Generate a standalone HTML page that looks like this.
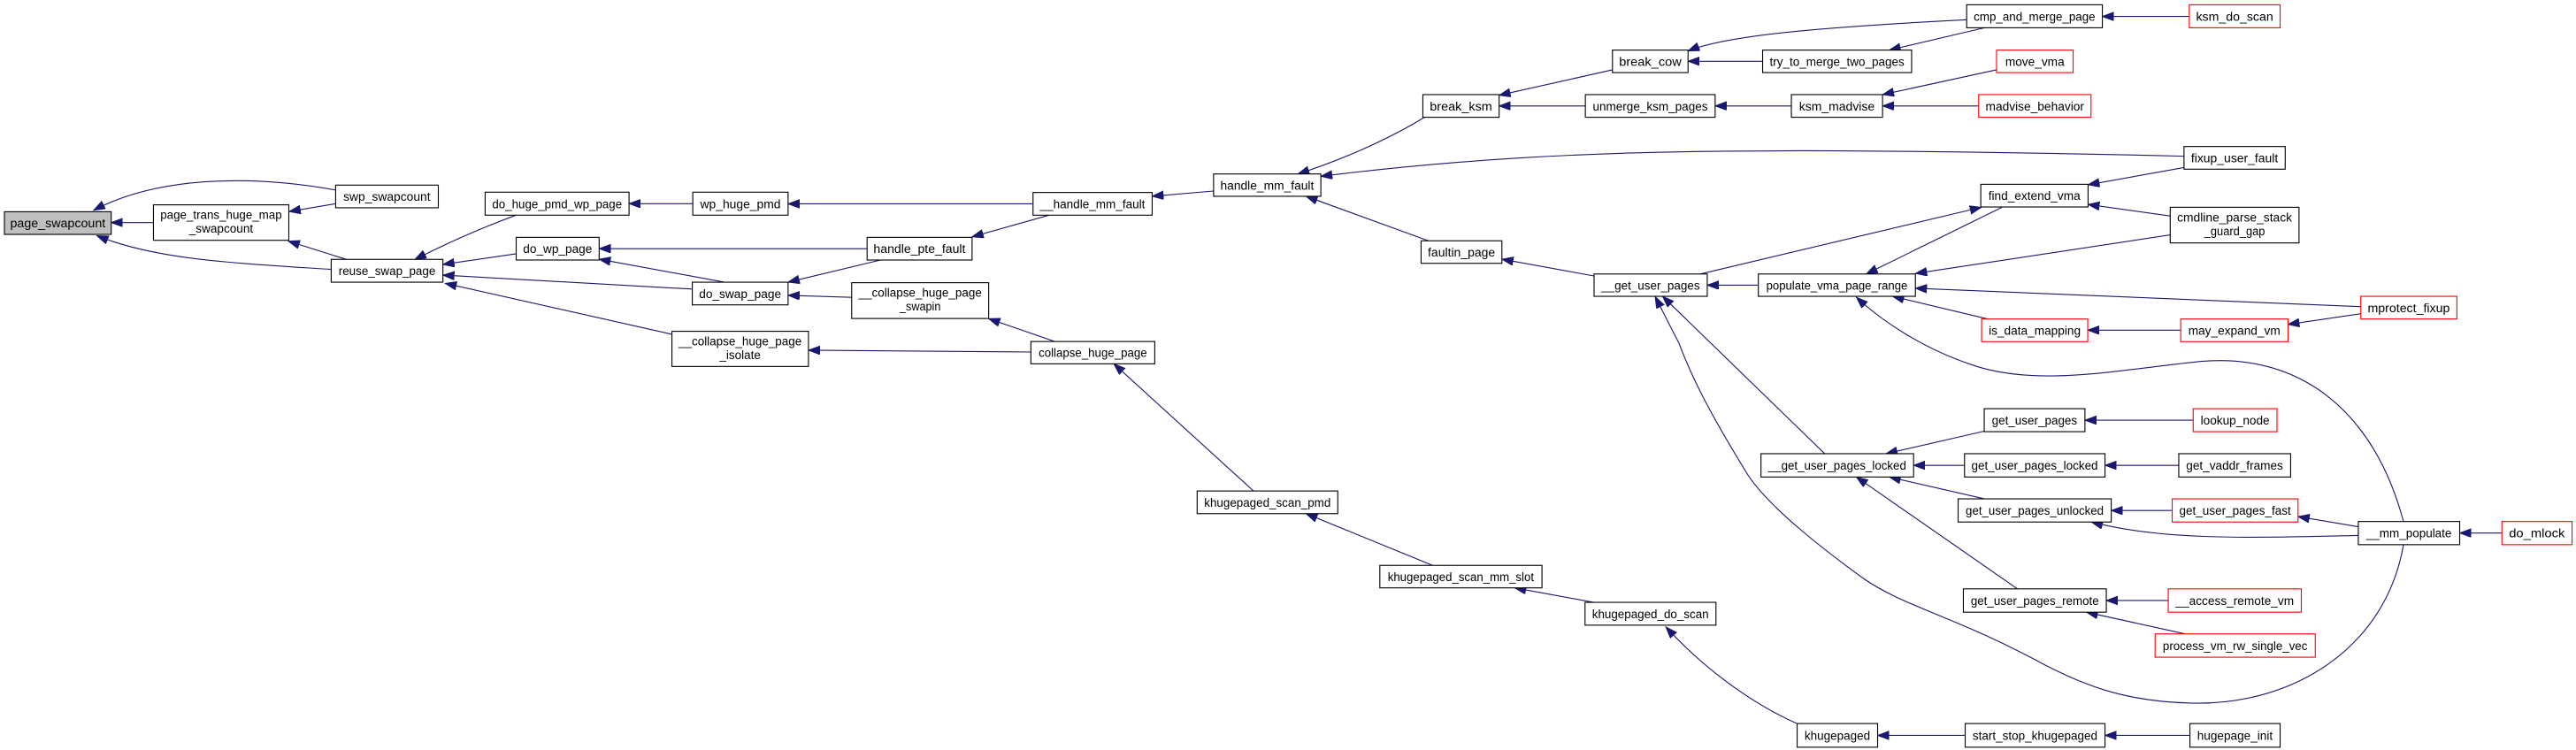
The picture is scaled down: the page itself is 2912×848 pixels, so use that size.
<!DOCTYPE html>
<html><head><meta charset="utf-8"><style>
html,body{margin:0;padding:0;background:#fff;}
svg{display:block;}
text{font-family:"Liberation Sans",sans-serif;font-size:7.6px;fill:#000;text-anchor:middle;}
.n{fill:#fff;stroke:#000;stroke-width:0.6;}
.r{fill:#fff;stroke:#ff0000;stroke-width:0.6;}
.g{fill:#bfbfbf;stroke:#000;stroke-width:0.6;}
path{fill:none;stroke:#191970;stroke-width:0.6;}
</style></head><body>
<svg width="2912" height="848" viewBox="0 0 1568 456.6" preserveAspectRatio="none" xmlns="http://www.w3.org/2000/svg">
<defs><marker id="a" markerUnits="userSpaceOnUse" markerWidth="8" markerHeight="6" refX="7" refY="2.6" orient="auto"><polygon points="0,0 7,2.6 0,5.2" fill="#191970" stroke="#191970" stroke-width="0.5"/></marker></defs>
<g marker-end="url(#a)">
<path d="M204.3,115.7 C150,106 95,108 57,128"/>
<path d="M204.3,124 L176,128.8"/>
<path d="M93.4,135.5 L67.7,135.5"/>
<path d="M201.6,164 C140,160 95,158 59,143.5"/>
<path d="M211,158 L175.5,146.8"/>
<path d="M314,131 C290,140 268,150 252.5,158"/>
<path d="M314.2,154.5 L269.6,161"/>
<path d="M421.4,176 L269.6,167.5"/>
<path d="M409,203.5 L271,172.5"/>
<path d="M421.7,124 L382.9,124"/>
<path d="M527.8,151.4 L364.7,151.4"/>
<path d="M441,171.8 L364.7,157.8"/>
<path d="M536,158.3 L479.7,171.8"/>
<path d="M518.4,181 L479.7,179.8"/>
<path d="M642,207.9 L601.8,194"/>
<path d="M627.5,214.3 L492.1,213.2"/>
<path d="M628.8,124.1 L479.7,124.1"/>
<path d="M638.5,131 L591.7,144.2"/>
<path d="M738.7,116.3 L701.3,119.5"/>
<path d="M867,71.4 C845,85 815,98 790,105.9"/>
<path d="M869.5,146.6 L795,119.5"/>
<path d="M1329.4,95.1 C1200,92 1100,91.5 1077,91.9 C960,92 880,98 804,107.3"/>
<path d="M981.5,42.5 L912.5,58"/>
<path d="M965,64.5 L912.5,64.5"/>
<path d="M1197.1,12 C1100,17 1050,22 1027.5,31"/>
<path d="M1072.9,37.3 L1027.5,37.3"/>
<path d="M1208,16.9 L1150,30.5"/>
<path d="M1332.6,10 L1279.7,10"/>
<path d="M1090.4,64.5 L1044,64.5"/>
<path d="M1215.3,42.5 L1145.9,57.6"/>
<path d="M1204.4,64.5 L1145.9,64.5"/>
<path d="M1329.4,102 L1271,112.5"/>
<path d="M1321,131.5 L1271,124.5"/>
<path d="M1035,166.8 L1206,126.2"/>
<path d="M1218.6,126.2 L1136,166.8"/>
<path d="M1321,143 L1166,166.5"/>
<path d="M1437,186.7 L1165.9,175.5"/>
<path d="M1210,194.2 L1152,180.4"/>
<path d="M1463,317.5 C1445,250 1400,215 1340,220 C1290,225 1240,236 1200,222 C1170,212 1145,195 1130,181"/>
<path d="M1327.4,201 L1270.8,201"/>
<path d="M1437,191 L1392.7,197.5"/>
<path d="M1070.3,173.6 L1039.2,173.6"/>
<path d="M970.3,168 L914.2,157.8"/>
<path d="M1110.7,276.2 L1012,180.4"/>
<path d="M1463,331.6 C1452,395 1395,430 1333,428 C1290,427 1265,415 1245,405 C1190,375 1160,370 1134,352 C1090,320 1070,300 1062,286 C1040,250 1030,230 1022,209 L1007.5,180.6"/>
<path d="M1207.8,262.5 L1148,276.2"/>
<path d="M1335,255.8 L1269.1,255.8"/>
<path d="M1195.8,283.3 L1164.8,283.3"/>
<path d="M1326.2,283.3 L1281.3,283.3"/>
<path d="M1208,303.7 L1150,290.4"/>
<path d="M1322.2,310.8 L1285.1,310.8"/>
<path d="M1435.5,320.7 L1398.8,314.5"/>
<path d="M1435.5,326 C1380,327 1320,330 1273,317.8"/>
<path d="M1228,358.5 L1130,290.4"/>
<path d="M1319.8,365.6 L1282.1,365.6"/>
<path d="M1330,385.9 L1270,372.7"/>
<path d="M1522.9,324.5 L1497.2,324.5"/>
<path d="M970,366.7 L922,357.9"/>
<path d="M872,344.2 L795,312.7"/>
<path d="M763,298.9 L678,221.5"/>
<path d="M1093.9,440.5 C1070,430 1040,410 1014,381.7"/>
<path d="M1196.2,447.7 L1142.9,447.7"/>
<path d="M1333,447.7 L1281.3,447.7"/>
</g>
<!-- nodes -->
<rect class="g" x="2.7" y="128.9" width="65" height="13.8"/><text x="35.2" y="138.5" textLength="58" lengthAdjust="spacingAndGlyphs">page_swapcount</text>
<rect class="n" x="93.4" y="124.7" width="82.4" height="21.6"/><text x="134.6" y="133.3" textLength="74" lengthAdjust="spacingAndGlyphs">page_trans_huge_map</text><text x="134.6" y="141.6" textLength="39" lengthAdjust="spacingAndGlyphs">_swapcount</text>
<rect class="n" x="204.3" y="112.7" width="62.5" height="13.8"/><text x="235.5" y="122.3" textLength="53" lengthAdjust="spacingAndGlyphs">swp_swapcount</text>
<rect class="n" x="201.6" y="157.9" width="68" height="13.9"/><text x="235.6" y="167.5" textLength="59" lengthAdjust="spacingAndGlyphs">reuse_swap_page</text>
<rect class="n" x="295.3" y="117" width="87.6" height="14"/><text x="339.1" y="126.7" textLength="79" lengthAdjust="spacingAndGlyphs">do_huge_pmd_wp_page</text>
<rect class="n" x="314.2" y="144.5" width="50.5" height="13.8"/><text x="339.4" y="154.1" textLength="42" lengthAdjust="spacingAndGlyphs">do_wp_page</text>
<rect class="n" x="421.4" y="171.8" width="58.3" height="13.8"/><text x="450.5" y="181.4" textLength="50" lengthAdjust="spacingAndGlyphs">do_swap_page</text>
<rect class="n" x="409" y="201.7" width="83.1" height="21.4"/><text x="450.5" y="210.2" textLength="75" lengthAdjust="spacingAndGlyphs">__collapse_huge_page</text><text x="450.5" y="218.5" textLength="25" lengthAdjust="spacingAndGlyphs">_isolate</text>
<rect class="n" x="421.7" y="117" width="58" height="14"/><text x="450.7" y="126.7" textLength="49" lengthAdjust="spacingAndGlyphs">wp_huge_pmd</text>
<rect class="n" x="527.8" y="144.5" width="63.9" height="13.8"/><text x="559.7" y="154.1" textLength="56" lengthAdjust="spacingAndGlyphs">handle_pte_fault</text>
<rect class="n" x="518.4" y="172.1" width="83.4" height="21.8"/><text x="560.1" y="180.7" textLength="75" lengthAdjust="spacingAndGlyphs">__collapse_huge_page</text><text x="560.1" y="189" textLength="25" lengthAdjust="spacingAndGlyphs">_swapin</text>
<rect class="n" x="627.5" y="207.9" width="75.4" height="13.6"/><text x="665.2" y="217.4" textLength="66" lengthAdjust="spacingAndGlyphs">collapse_huge_page</text>
<rect class="n" x="628.8" y="117.2" width="72.5" height="13.8"/><text x="665" y="126.8" textLength="64" lengthAdjust="spacingAndGlyphs">__handle_mm_fault</text>
<rect class="n" x="738.7" y="105.9" width="65.3" height="13.6"/><text x="771.3" y="115.4" textLength="57" lengthAdjust="spacingAndGlyphs">handle_mm_fault</text>
<rect class="n" x="866.1" y="57.6" width="46.4" height="13.8"/><text x="889.3" y="67.2" textLength="38" lengthAdjust="spacingAndGlyphs">break_ksm</text>
<rect class="n" x="865" y="146.6" width="49.2" height="13.7"/><text x="889.6" y="156.2" textLength="41" lengthAdjust="spacingAndGlyphs">faultin_page</text>
<rect class="n" x="981.5" y="30.5" width="46" height="13.7"/><text x="1004.5" y="40.1" textLength="38" lengthAdjust="spacingAndGlyphs">break_cow</text>
<rect class="n" x="965" y="57.6" width="79" height="13.8"/><text x="1004.5" y="67.2" textLength="70" lengthAdjust="spacingAndGlyphs">unmerge_ksm_pages</text>
<rect class="n" x="1072.9" y="30.5" width="90.7" height="13.7"/><text x="1118.2" y="40.1" textLength="82" lengthAdjust="spacingAndGlyphs">try_to_merge_two_pages</text>
<rect class="n" x="1197.1" y="2.9" width="82.6" height="14"/><text x="1238.4" y="12.6" textLength="74" lengthAdjust="spacingAndGlyphs">cmp_and_merge_page</text>
<rect class="r" x="1332.6" y="2.9" width="55.3" height="14"/><text x="1360.2" y="12.6" textLength="47" lengthAdjust="spacingAndGlyphs">ksm_do_scan</text>
<rect class="r" x="1215.3" y="30.5" width="46.6" height="13.7"/><text x="1238.6" y="40.1" textLength="36" lengthAdjust="spacingAndGlyphs">move_vma</text>
<rect class="n" x="1090.4" y="57.6" width="55.5" height="13.8"/><text x="1118.1" y="67.2" textLength="46" lengthAdjust="spacingAndGlyphs">ksm_madvise</text>
<rect class="r" x="1204.4" y="57.6" width="68.4" height="13.8"/><text x="1238.6" y="67.2" textLength="60" lengthAdjust="spacingAndGlyphs">madvise_behavior</text>
<rect class="n" x="1329.4" y="89.2" width="61.6" height="13.8"/><text x="1360.2" y="98.8" textLength="53" lengthAdjust="spacingAndGlyphs">fixup_user_fault</text>
<rect class="n" x="1205.7" y="112.2" width="65.3" height="13.8"/><text x="1238.3" y="121.8" textLength="56" lengthAdjust="spacingAndGlyphs">find_extend_vma</text>
<rect class="n" x="1321" y="126.2" width="78.4" height="21.7"/><text x="1360.2" y="134.8" textLength="70" lengthAdjust="spacingAndGlyphs">cmdline_parse_stack</text><text x="1360.2" y="143.1" textLength="37" lengthAdjust="spacingAndGlyphs">_guard_gap</text>
<rect class="n" x="970.3" y="166.8" width="68.9" height="13.6"/><text x="1004.7" y="176.3" textLength="60" lengthAdjust="spacingAndGlyphs">__get_user_pages</text>
<rect class="n" x="1070.3" y="166.8" width="95.6" height="13.6"/><text x="1118.1" y="176.3" textLength="86" lengthAdjust="spacingAndGlyphs">populate_vma_page_range</text>
<rect class="r" x="1437" y="180.4" width="58.5" height="13.8"/><text x="1466.2" y="190" textLength="50" lengthAdjust="spacingAndGlyphs">mprotect_fixup</text>
<rect class="r" x="1206.2" y="194.2" width="64.6" height="13.8"/><text x="1238.5" y="203.8" textLength="56" lengthAdjust="spacingAndGlyphs">is_data_mapping</text>
<rect class="r" x="1327.4" y="194.2" width="65.3" height="13.8"/><text x="1360" y="203.8" textLength="56" lengthAdjust="spacingAndGlyphs">may_expand_vm</text>
<rect class="n" x="1207.8" y="248.8" width="61.3" height="14"/><text x="1238.4" y="258.5" textLength="52" lengthAdjust="spacingAndGlyphs">get_user_pages</text>
<rect class="r" x="1335" y="248.8" width="51" height="14"/><text x="1360.5" y="258.5" textLength="42" lengthAdjust="spacingAndGlyphs">lookup_node</text>
<rect class="n" x="1071.9" y="276.2" width="92.9" height="14.2"/><text x="1118.3" y="286" textLength="84" lengthAdjust="spacingAndGlyphs">__get_user_pages_locked</text>
<rect class="n" x="1195.8" y="276.2" width="85.5" height="14.2"/><text x="1238.5" y="286" textLength="77" lengthAdjust="spacingAndGlyphs">get_user_pages_locked</text>
<rect class="n" x="1326.2" y="276.2" width="68.1" height="14.2"/><text x="1360.2" y="286" textLength="59" lengthAdjust="spacingAndGlyphs">get_vaddr_frames</text>
<rect class="n" x="1191.9" y="303.7" width="93.2" height="14.1"/><text x="1238.5" y="313.4" textLength="84" lengthAdjust="spacingAndGlyphs">get_user_pages_unlocked</text>
<rect class="r" x="1322.2" y="303.7" width="76.6" height="14.1"/><text x="1360.5" y="313.4" textLength="68" lengthAdjust="spacingAndGlyphs">get_user_pages_fast</text>
<rect class="n" x="1435.5" y="317.5" width="61.7" height="14.1"/><text x="1466.3" y="327.2" textLength="52" lengthAdjust="spacingAndGlyphs">__mm_populate</text>
<rect class="r" x="1522.9" y="317.5" width="42.7" height="14.1"/><text x="1544.2" y="327.2" textLength="34" lengthAdjust="spacingAndGlyphs">do_mlock</text>
<rect class="n" x="1195.1" y="358.5" width="87" height="14.2"/><text x="1238.6" y="368.3" textLength="78" lengthAdjust="spacingAndGlyphs">get_user_pages_remote</text>
<rect class="r" x="1319.8" y="358.5" width="81" height="14.2"/><text x="1360.3" y="368.3" textLength="72" lengthAdjust="spacingAndGlyphs">__access_remote_vm</text>
<rect class="r" x="1311.8" y="385.9" width="97.5" height="14.2"/><text x="1360.5" y="395.7" textLength="88" lengthAdjust="spacingAndGlyphs">process_vm_rw_single_vec</text>
<rect class="n" x="728.7" y="298.9" width="85.6" height="13.8"/><text x="771.5" y="308.5" textLength="77" lengthAdjust="spacingAndGlyphs">khugepaged_scan_pmd</text>
<rect class="n" x="839.9" y="344.2" width="98.7" height="13.7"/><text x="889.2" y="353.8" textLength="89" lengthAdjust="spacingAndGlyphs">khugepaged_scan_mm_slot</text>
<rect class="n" x="964.8" y="366.7" width="79.7" height="13.9"/><text x="1004.6" y="376.4" textLength="71" lengthAdjust="spacingAndGlyphs">khugepaged_do_scan</text>
<rect class="n" x="1093.9" y="440.5" width="49" height="14.4"/><text x="1118.4" y="450.4" textLength="40" lengthAdjust="spacingAndGlyphs">khugepaged</text>
<rect class="n" x="1196.2" y="440.5" width="85.1" height="14.4"/><text x="1238.7" y="450.4" textLength="76" lengthAdjust="spacingAndGlyphs">start_stop_khugepaged</text>
<rect class="n" x="1333" y="440.5" width="54.9" height="14.4"/><text x="1360.4" y="450.4" textLength="46" lengthAdjust="spacingAndGlyphs">hugepage_init</text>
</svg>
</body></html>
